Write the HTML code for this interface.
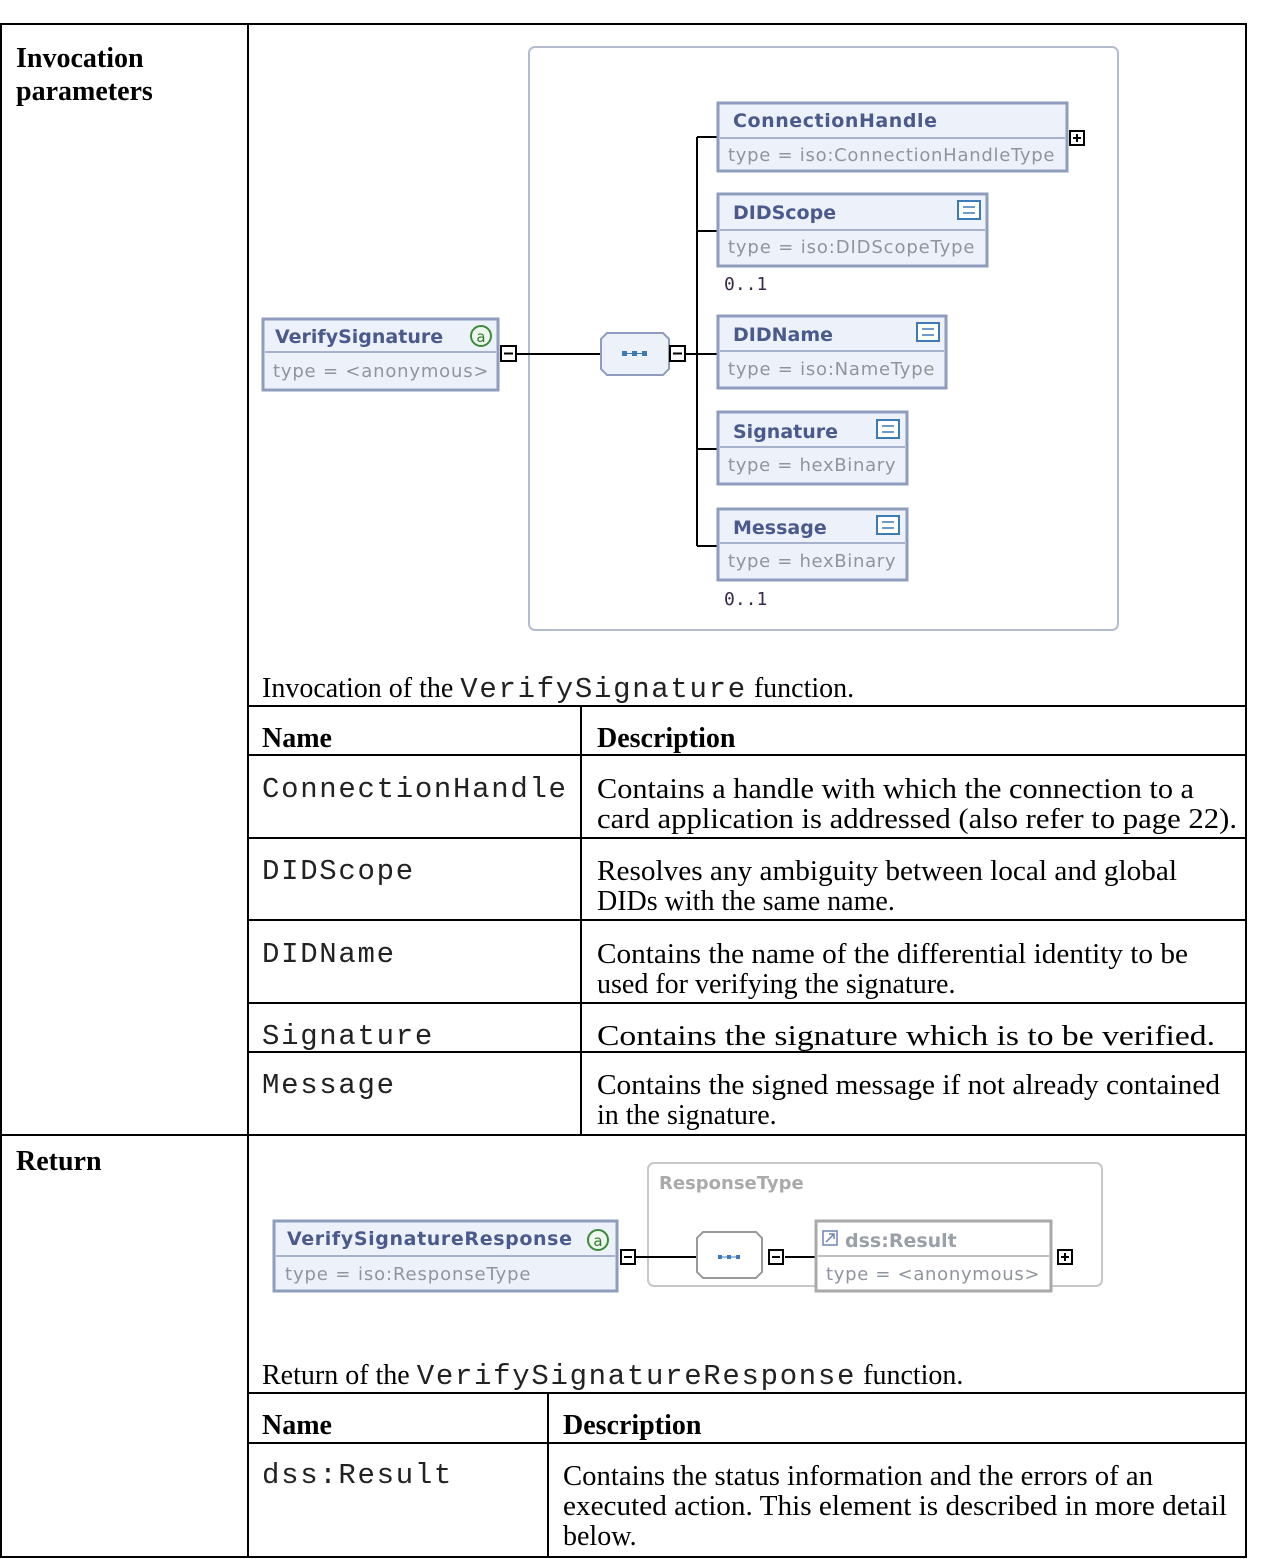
<!DOCTYPE html>
<html><head><meta charset="utf-8"><style>
html,body{margin:0;padding:0;background:#fff;}
svg{display:block;}
.s{font-family:"Liberation Serif",serif;font-size:28px;fill:#000;}
.b{font-weight:bold;}
.m{font-family:"Liberation Mono",monospace;font-size:29px;fill:#222;}
.t{font-family:"DejaVu Sans","Liberation Sans",sans-serif;font-size:19px;font-weight:bold;fill:#4a5a8c;}
.ty{font-family:"DejaVu Sans","Liberation Sans",sans-serif;font-size:18px;fill:#8f949e;letter-spacing:0.5px;}
.card{font-family:"DejaVu Sans Mono",monospace;font-size:18px;fill:#3a2a4a;}
</style></head><body>
<svg width="1277" height="1559" viewBox="0 0 1277 1559" xmlns="http://www.w3.org/2000/svg">
<g stroke="#000" stroke-width="2" fill="none">
<rect x="1" y="24" width="1245" height="1533"/>
<line x1="248" y1="24" x2="248" y2="1557"/>
<line x1="1" y1="1135" x2="1246" y2="1135"/>
<line x1="248" y1="706" x2="1246" y2="706"/>
<line x1="248" y1="755" x2="1246" y2="755"/>
<line x1="248" y1="838" x2="1246" y2="838"/>
<line x1="248" y1="920" x2="1246" y2="920"/>
<line x1="248" y1="1003" x2="1246" y2="1003"/>
<line x1="248" y1="1052" x2="1246" y2="1052"/>
<line x1="581" y1="706" x2="581" y2="1135"/>
<line x1="248" y1="1393" x2="1246" y2="1393"/>
<line x1="248" y1="1443" x2="1246" y2="1443"/>
<line x1="548" y1="1393" x2="548" y2="1557"/>
</g>
<text class="s b" x="16" y="67">Invocation</text>
<text class="s b" x="16" y="100">parameters</text>
<text class="s b" x="16" y="1170">Return</text>

<rect x="529" y="47" width="589" height="583" rx="6" fill="none" stroke="#b4bccf" stroke-width="2"/>
<g stroke="#000" stroke-width="2" fill="none">
<line x1="517" y1="354" x2="601" y2="354"/>
<line x1="685" y1="354" x2="717" y2="354"/>
<line x1="697" y1="137" x2="697" y2="546"/>
<line x1="697" y1="137" x2="717" y2="137"/>
<line x1="697" y1="231" x2="717" y2="231"/>
<line x1="697" y1="449" x2="717" y2="449"/>
<line x1="697" y1="546" x2="717" y2="546"/>
</g>
<g fill="#edf2fa" stroke="#8e9dbd" stroke-width="3">
<rect x="263" y="319" width="235" height="71"/>
<rect x="718" y="103" width="349" height="68"/>
<rect x="718" y="194" width="269" height="72"/>
<rect x="718" y="316" width="228" height="72"/>
<rect x="718" y="412" width="189" height="72"/>
<rect x="718" y="509" width="189" height="71"/>
</g>
<g stroke="#8e9dbd" stroke-width="1.5">
<line x1="265" y1="352" x2="496" y2="352"/>
<line x1="720" y1="138" x2="1065" y2="138"/>
<line x1="720" y1="230" x2="985" y2="230"/>
<line x1="720" y1="351" x2="944" y2="351"/>
<line x1="720" y1="447" x2="905" y2="447"/>
<line x1="720" y1="543" x2="905" y2="543"/>
</g>
<text class="t" x="275" y="343">VerifySignature</text>
<circle cx="481" cy="336" r="10" fill="#eef7ee" stroke="#3a8a3a" stroke-width="2"/>
<text x="481" y="342" text-anchor="middle" font-family="DejaVu Sans,sans-serif" font-size="15" fill="#2f7a2f">a</text>
<text class="ty" x="273" y="377" textLength="216">type = &lt;anonymous&gt;</text>
<text class="t" x="733" y="127" textLength="204">ConnectionHandle</text>
<text class="ty" x="728" y="161" textLength="327">type = iso:ConnectionHandleType</text>
<text class="t" x="733" y="219">DIDScope</text>
<text class="ty" x="728" y="253" textLength="247">type = iso:DIDScopeType</text>
<text class="t" x="733" y="341">DIDName</text>
<text class="ty" x="728" y="375" textLength="207">type = iso:NameType</text>
<text class="t" x="733" y="438">Signature</text>
<text class="ty" x="728" y="471" textLength="168">type = hexBinary</text>
<text class="t" x="733" y="534">Message</text>
<text class="ty" x="728" y="567" textLength="168">type = hexBinary</text>
<text class="card" x="724" y="290">0..1</text>
<text class="card" x="724" y="605">0..1</text>
<g fill="#fff" stroke="#3d7bb6" stroke-width="2">
<rect x="958" y="201" width="22" height="18"/>
<rect x="917" y="323" width="22" height="18"/>
<rect x="877" y="420" width="22" height="18"/>
<rect x="877" y="516" width="22" height="18"/>
</g>
<g stroke="#3d7bb6" stroke-width="1.5">
<line x1="963" y1="207" x2="975" y2="207"/><line x1="963" y1="213" x2="975" y2="213"/>
<line x1="922" y1="329" x2="934" y2="329"/><line x1="922" y1="335" x2="934" y2="335"/>
<line x1="882" y1="426" x2="894" y2="426"/><line x1="882" y1="432" x2="894" y2="432"/>
<line x1="882" y1="522" x2="894" y2="522"/><line x1="882" y1="528" x2="894" y2="528"/>
</g>
<path d="M607 333 H663 L669 339 V369 L663 375 H607 L601 369 V339 Z" fill="#edf2fa" stroke="#8e9dbd" stroke-width="2"/>
<g fill="#3d7bb6"><rect x="622" y="351" width="5" height="5"/><rect x="632" y="351" width="5" height="5"/><rect x="642" y="351" width="5" height="5"/></g>
<line x1="627" y1="353.5" x2="642" y2="353.5" stroke="#3d7bb6" stroke-width="1"/>
<g fill="#fff" stroke="#000" stroke-width="2">
<rect x="501" y="346" width="15" height="15"/>
<rect x="670" y="346" width="15" height="15"/>
<rect x="1070" y="131" width="14" height="14"/>
</g>
<g stroke="#000" stroke-width="2">
<line x1="504" y1="353.5" x2="513" y2="353.5"/>
<line x1="673" y1="353.5" x2="682" y2="353.5"/>
<line x1="1073" y1="138" x2="1081" y2="138"/><line x1="1077" y1="134" x2="1077" y2="142"/>
</g>

<text class="s" x="262" y="697">Invocation of the <tspan class="m" letter-spacing="1.7">VerifySignature</tspan> function.</text>
<text class="s b" x="262" y="747">Name</text>
<text class="s b" x="597" y="747">Description</text>
<text class="m" x="262" y="797" letter-spacing="1.7">ConnectionHandle</text>
<text class="m" x="262" y="879" letter-spacing="1.7">DIDScope</text>
<text class="m" x="262" y="962" letter-spacing="1.7">DIDName</text>
<text class="m" x="262" y="1044" letter-spacing="1.7">Signature</text>
<text class="m" x="262" y="1093" letter-spacing="1.7">Message</text>
<text class="s" x="597" y="798" textLength="597" lengthAdjust="spacingAndGlyphs">Contains a handle with which the connection to a</text>
<text class="s" x="597" y="828" textLength="640" lengthAdjust="spacingAndGlyphs">card application is addressed (also refer to page 22).</text>
<text class="s" x="597" y="880" textLength="580" lengthAdjust="spacingAndGlyphs">Resolves any ambiguity between local and global</text>
<text class="s" x="597" y="910">DIDs with the same name.</text>
<text class="s" x="597" y="963" textLength="591" lengthAdjust="spacingAndGlyphs">Contains the name of the differential identity to be</text>
<text class="s" x="597" y="993">used for verifying the signature.</text>
<text class="s" x="597" y="1045" textLength="618" lengthAdjust="spacingAndGlyphs">Contains the signature which is to be verified.</text>
<text class="s" x="597" y="1094" textLength="623" lengthAdjust="spacingAndGlyphs">Contains the signed message if not already contained</text>
<text class="s" x="597" y="1124">in the signature.</text>

<rect x="648" y="1163" width="454" height="123" rx="6" fill="none" stroke="#c8c8c8" stroke-width="2"/>
<text x="659" y="1189" font-family="DejaVu Sans,sans-serif" font-size="18" font-weight="bold" fill="#aaaaaa">ResponseType</text>
<g stroke="#000" stroke-width="2">
<line x1="636" y1="1257" x2="697" y2="1257"/>
<line x1="785" y1="1257" x2="816" y2="1257"/>
</g>
<rect x="274" y="1221" width="343" height="70" fill="#edf2fa" stroke="#8e9dbd" stroke-width="3"/>
<line x1="276" y1="1256" x2="615" y2="1256" stroke="#8e9dbd" stroke-width="1.5"/>
<text class="t" x="287" y="1245" textLength="285">VerifySignatureResponse</text>
<circle cx="598" cy="1240" r="10" fill="#eef7ee" stroke="#3a8a3a" stroke-width="2"/>
<text x="598" y="1246" text-anchor="middle" font-family="DejaVu Sans,sans-serif" font-size="15" fill="#2f7a2f">a</text>
<text class="ty" x="285" y="1280" textLength="246">type = iso:ResponseType</text>
<path d="M703 1232 H756 L762 1238 V1272 L756 1278 H703 L697 1272 V1238 Z" fill="#fff" stroke="#999" stroke-width="2"/>
<g fill="#3d7bb6"><rect x="718" y="1255" width="4" height="4"/><rect x="727" y="1255" width="4" height="4"/><rect x="736" y="1255" width="4" height="4"/></g>
<line x1="722" y1="1257" x2="736" y2="1257" stroke="#3d7bb6" stroke-width="1"/>
<rect x="816" y="1221" width="235" height="70" fill="#fff" stroke="#a9a9a9" stroke-width="3"/>
<line x1="818" y1="1256" x2="1049" y2="1256" stroke="#a9a9a9" stroke-width="1.5"/>
<rect x="823" y="1231" width="14" height="14" fill="#fff" stroke="#6b86b8" stroke-width="1.5"/>
<path d="M826 1242 L834 1234 M829 1234 H834 V1239" stroke="#6b86b8" stroke-width="1.5" fill="none"/>
<text x="845" y="1247" font-family="DejaVu Sans,sans-serif" font-size="19" font-weight="bold" fill="#9aa0aa">dss:Result</text>
<text class="ty" x="826" y="1280" textLength="214">type = &lt;anonymous&gt;</text>
<g fill="#fff" stroke="#000" stroke-width="2">
<rect x="621" y="1250" width="14" height="14"/>
<rect x="769" y="1250" width="14" height="14"/>
<rect x="1058" y="1250" width="14" height="14"/>
</g>
<g stroke="#000" stroke-width="2">
<line x1="624" y1="1257" x2="632" y2="1257"/>
<line x1="772" y1="1257" x2="780" y2="1257"/>
<line x1="1061" y1="1257" x2="1069" y2="1257"/><line x1="1065" y1="1253" x2="1065" y2="1261"/>
</g>

<text class="s" x="262" y="1384">Return of the <tspan class="m" letter-spacing="1.7">VerifySignatureResponse</tspan> function.</text>
<text class="s b" x="262" y="1434">Name</text>
<text class="s b" x="563" y="1434">Description</text>
<text class="m" x="262" y="1483" letter-spacing="1.7">dss:Result</text>
<text class="s" x="563" y="1485" textLength="590" lengthAdjust="spacingAndGlyphs">Contains the status information and the errors of an</text>
<text class="s" x="563" y="1515" textLength="664" lengthAdjust="spacingAndGlyphs">executed action. This element is described in more detail</text>
<text class="s" x="563" y="1545">below.</text>
</svg>
</body></html>
